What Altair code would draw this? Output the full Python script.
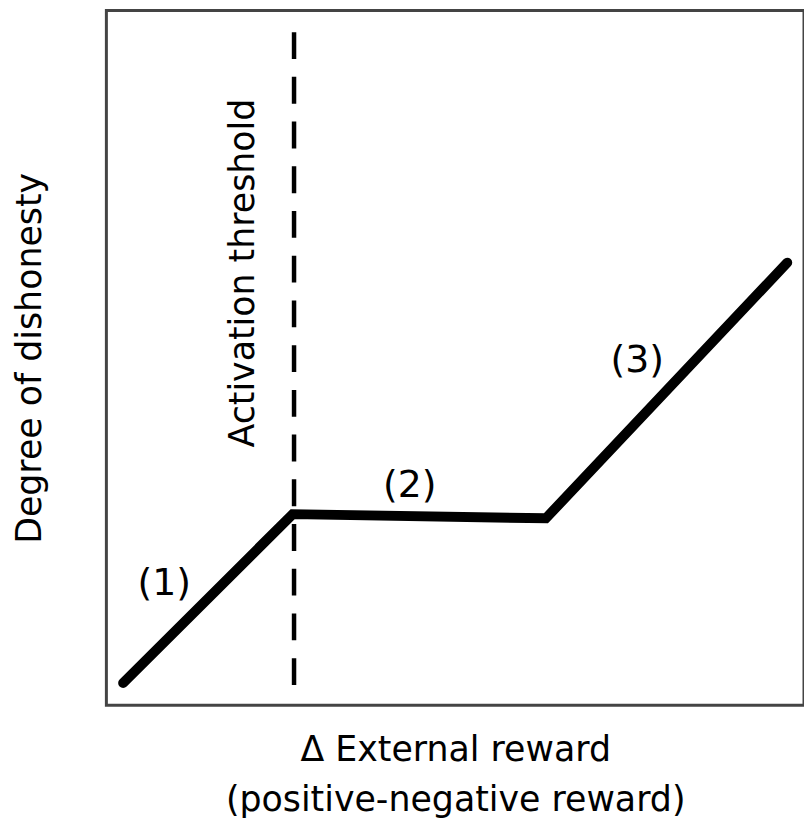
import altair as alt
import pandas as pd

# Main curve (data units 0-100 on both axes)
curve_x = [2.4, 26.7, 63.0, 97.6]
curve_y = [3.2, 27.5, 26.9, 63.7]

# Activation threshold
threshold_x = 26.9
threshold_y_start = 2.9
threshold_y_end = 98.3

# Segment labels
seg_labels = ["(1)", "(2)", "(3)"]
seg_x = [8.3, 43.5, 76.1]
seg_y = [17.5, 31.5, 49.6]

thr_label = "Activation threshold"
thr_label_x = 19.6
thr_label_y = 62.2

x_title = ["\u0394 External reward", "(positive-negative reward)"]
y_title = "Degree of dishonesty"

FONT = "DejaVu Sans"

curve_df = pd.DataFrame({"x": curve_x, "y": curve_y, "order": list(range(len(curve_x)))})
lab_df = pd.DataFrame({"label": seg_labels, "x": seg_x, "y": seg_y})
thr_df = pd.DataFrame({"x": [threshold_x], "y": [threshold_y_start], "y2": [threshold_y_end]})
thr_lab_df = pd.DataFrame({"label": [thr_label], "x": [thr_label_x], "y": [thr_label_y]})

xs = alt.Scale(domain=[0, 100], nice=False, zero=False)
ys = alt.Scale(domain=[0, 100], nice=False, zero=False)

x_axis = alt.Axis(title=x_title, labels=False, ticks=False, domain=False, grid=False,
                  titleFont=FONT, titleFontSize=35, titleFontWeight="normal",
                  titleColor="#000", titlePadding=28, titleLineHeight=50)
y_axis = alt.Axis(title=y_title, labels=False, ticks=False, domain=False, grid=False,
                  titleFont=FONT, titleFontSize=35, titleFontWeight="normal",
                  titleColor="#000", titlePadding=59)

line = alt.Chart(curve_df).mark_line(
    color="black", strokeWidth=10, strokeCap="round", strokeJoin="miter"
).encode(
    x=alt.X("x:Q", scale=xs, axis=x_axis),
    y=alt.Y("y:Q", scale=ys, axis=y_axis),
    order="order:Q",
)

rule = alt.Chart(thr_df).mark_rule(
    color="black", strokeWidth=4.5, strokeDash=[27, 18]
).encode(
    x=alt.X("x:Q", scale=xs),
    y=alt.Y("y:Q", scale=ys),
    y2="y2:Q",
)

labels = alt.Chart(lab_df).mark_text(
    font=FONT, fontSize=38, color="black", align="center", baseline="middle"
).encode(
    x=alt.X("x:Q", scale=xs),
    y=alt.Y("y:Q", scale=ys),
    text="label:N",
)

thr_text = alt.Chart(thr_lab_df).mark_text(
    font=FONT, fontSize=35, color="black", align="center", baseline="middle", angle=270
).encode(
    x=alt.X("x:Q", scale=xs),
    y=alt.Y("y:Q", scale=ys),
    text="label:N",
)

chart = alt.layer(rule, line, labels, thr_text).properties(
    width=702, height=699,
    background="white",
    autosize=alt.AutoSizeParams(type="none"),
    padding={"left": 99, "top": 0, "right": 0, "bottom": 116},
).configure_view(
    stroke="#444", strokeWidth=3
)

chart.save("out.html", embed_options={"renderer": "svg", "actions": False})
